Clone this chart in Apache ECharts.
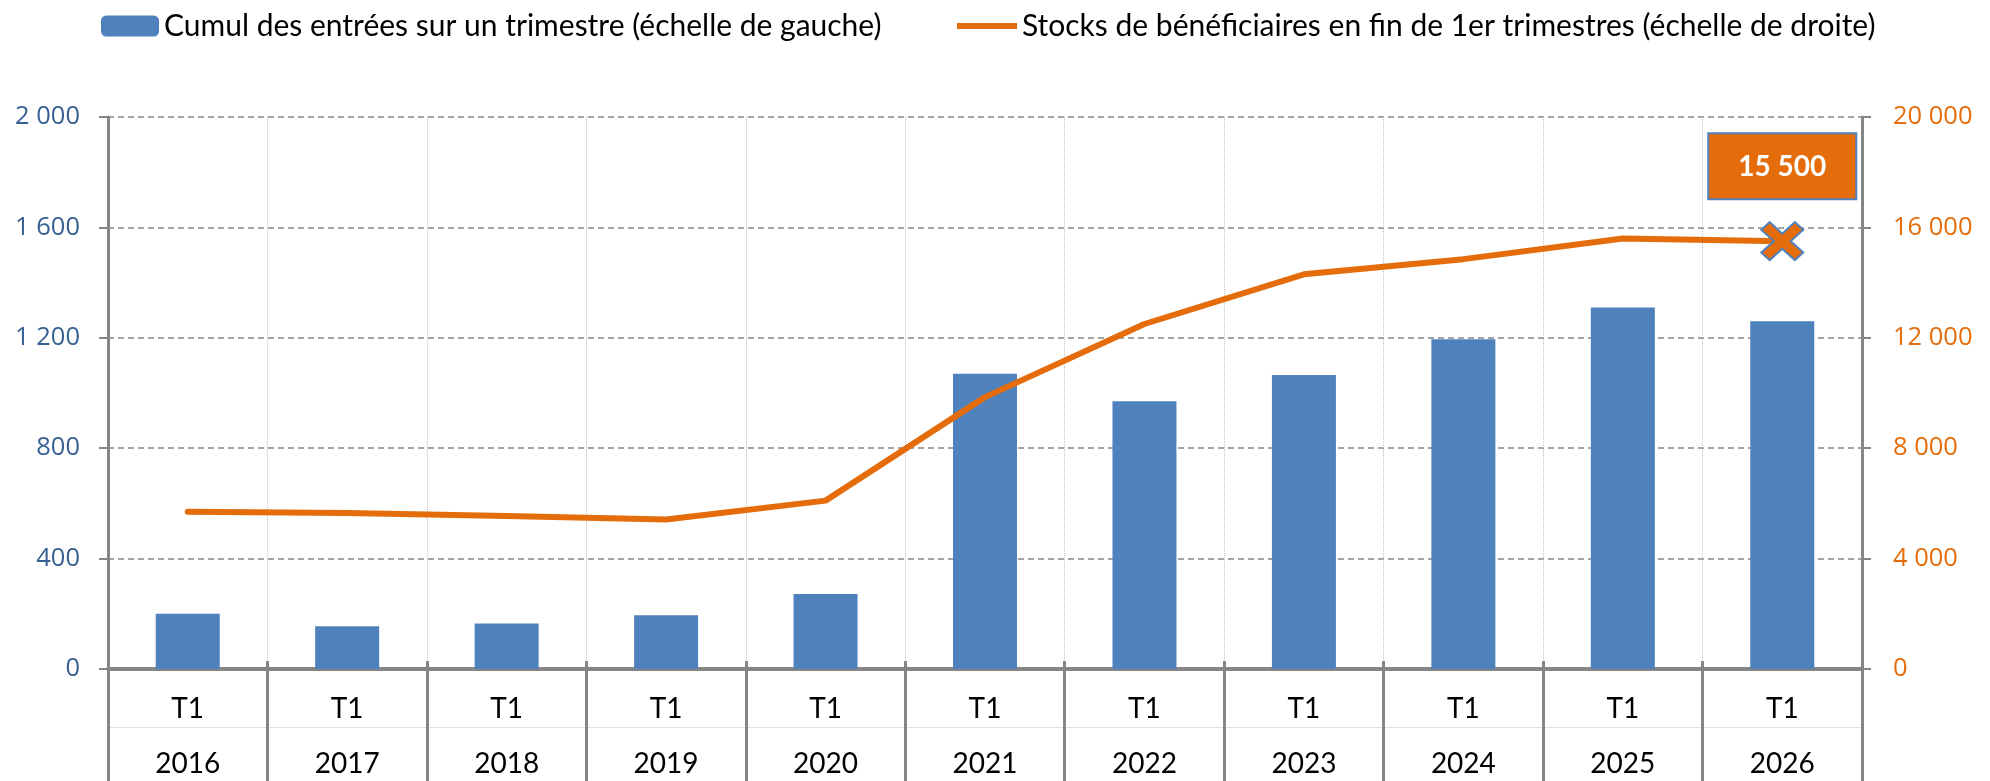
<!DOCTYPE html>
<html><head><meta charset="utf-8">
<script src="https://cdn.jsdelivr.net/npm/echarts@6/dist/echarts.min.js"></script>
<style>html,body{margin:0;padding:0;background:#fff}#c{width:1990px;height:781px}</style>
</head><body><div id="c"></div>
<script>
const years = ['2016','2017','2018','2019','2020','2021','2022','2023','2024','2025','2026'];
const quarterLabel = 'T1';
const entries = [200, 155, 165, 195, 272, 1070, 970, 1065, 1195, 1310, 1260];
const stocks = [5700, 5650, 5540, 5420, 6100, 9850, 12500, 14300, 14850, 15600, 15500];
const leftTicks = {min: 0, max: 2000, interval: 400};
const rightTicks = {min: 0, max: 20000, interval: 4000};
const barName = 'Cumul des entrées sur un trimestre (échelle de gauche)';
const lineName = 'Stocks de bénéficiaires en fin de 1er trimestres (échelle de droite)';

const fmt = v => String(v).replace(/\B(?=(\d{3})+(?!\d))/g, ' ');
const ORANGE = '#E46C0A', BLUE = '#4F81BD', GRAY = '#868686';
const FONT = 'Lato';
const last = stocks.length - 1;
const lineData = stocks.map((v, i) => i === last ? {
  value: v,
  symbol: 'path://M0,4 L4,0 L10,6 L16,0 L20,4 L14,10 L20,16 L16,20 L10,14 L4,20 L0,16 L6,10 Z',
  symbolSize: [42, 38],
  itemStyle: {color: ORANGE, borderColor: BLUE, borderWidth: 2},
  label: {
    show: true, position: 'top', distance: 23,
    formatter: p => fmt(p.value),
    color: '#fff', fontWeight: 'bold', fontSize: 28, fontFamily: FONT, lineHeight: 34,
    backgroundColor: ORANGE, borderColor: BLUE, borderWidth: 2,
    padding: [16, 29, 14, 29]
  }
} : v);

const chart = echarts.init(document.getElementById('c'));
chart.setOption({
  animation: false,
  backgroundColor: '#fff',
  legend: [
    {left: 96, top: 6, itemWidth: 58, itemHeight: 21, data: [barName],
     textStyle: {fontFamily: FONT, fontSize: 30, color: '#000'}},
    {left: 952, top: 6, itemWidth: 60, itemHeight: 6, icon: 'rect', data: [lineName],
     textStyle: {fontFamily: FONT, fontSize: 30, color: '#000'}}
  ],
  grid: {left: 108, right: 128, top: 117, bottom: 112, containLabel: false},
  xAxis: [
    {type: 'category', data: years, position: 'bottom',
     axisLine: {lineStyle: {color: GRAY, width: 4}},
     axisTick: {show: true, length: 115, lineStyle: {color: GRAY, width: 3}},
     axisLabel: {margin: 12, interval: 0,
       formatter: y => '{a|' + quarterLabel + '}\n{b|' + y + '}',
       rich: {a: {fontFamily: FONT, fontSize: 28, color: '#000', lineHeight: 55},
              b: {fontFamily: FONT, fontSize: 28, color: '#000', lineHeight: 55}}},
     splitLine: {show: true, lineStyle: {color: '#BFBFBF', type: 'dotted', width: 1}}},
    {type: 'category', data: years, position: 'bottom',
     axisLine: {show: false},
     axisTick: {show: true, inside: true, length: 8, lineStyle: {color: GRAY, width: 3}},
     axisLabel: {show: false}, splitLine: {show: false}},
    {type: 'category', data: years, position: 'bottom', offset: 58,
     axisLine: {show: true, lineStyle: {color: '#E0E0E0', width: 1}},
     axisTick: {show: false}, axisLabel: {show: false}, splitLine: {show: false}}
  ],
  yAxis: [
    {type: 'value', position: 'left', min: leftTicks.min, max: leftTicks.max, interval: leftTicks.interval,
     axisLine: {show: true, lineStyle: {color: GRAY, width: 3}},
     axisTick: {show: true, length: 9, lineStyle: {color: GRAY, width: 2}},
     axisLabel: {margin: 28, formatter: fmt, color: '#376092', fontFamily: 'Open Sans', fontSize: 25.5},
     splitLine: {show: true, lineStyle: {color: GRAY, type: [6, 4], width: 1.5}}},
    {type: 'value', position: 'right', min: rightTicks.min, max: rightTicks.max, interval: rightTicks.interval,
     axisLine: {show: true, lineStyle: {color: GRAY, width: 3}},
     axisTick: {show: true, length: 9, lineStyle: {color: GRAY, width: 2}},
     axisLabel: {margin: 31, formatter: fmt, color: ORANGE, fontFamily: 'Open Sans', fontSize: 25.5},
     splitLine: {show: false}}
  ],
  series: [
    {name: barName, type: 'bar', xAxisIndex: 0, yAxisIndex: 0, data: entries,
     barWidth: 64, itemStyle: {color: BLUE}},
    {name: lineName, type: 'line', xAxisIndex: 0, yAxisIndex: 1, data: lineData,
     symbol: 'none', lineStyle: {color: ORANGE, width: 6, cap: 'round'}, itemStyle: {color: ORANGE},
     z: 5}
  ]
});
</script></body></html>
